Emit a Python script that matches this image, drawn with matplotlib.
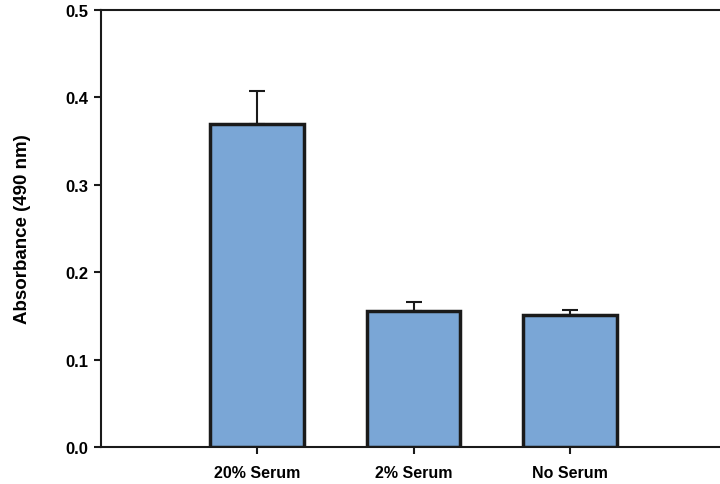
import matplotlib
matplotlib.use("Agg")
import matplotlib.pyplot as plt

# data
groups = ["20% Serum", "2% Serum", "No Serum"]
absorbance = [0.370, 0.156, 0.151]
err_up = [0.037, 0.010, 0.006]
yticks = [0.0, 0.1, 0.2, 0.3, 0.4, 0.5]

tickfont = ["Liberation Sans", "DejaVu Sans"]

fig = plt.figure(figsize=(7.2, 4.85), dpi=100)
ax = fig.add_axes([101 / 720, 1 - 448 / 485, 625 / 720, 437 / 485])

pos = [1, 2, 3]
ax.bar(pos, absorbance, width=0.6, color="#7aa6d6", edgecolor="#1a1a1a",
       linewidth=2.5, zorder=3)
ax.errorbar(pos, absorbance, yerr=[[0, 0, 0], err_up], fmt="none",
            ecolor="#1a1a1a", elinewidth=1.5, capsize=5.5, capthick=1.5, zorder=2)

ax.set_xlim(0, 4)
ax.set_ylim(0, 0.5)
ax.set_yticks(yticks)
ax.set_yticklabels([f"{v:.1f}" for v in yticks], family=tickfont,
                   fontweight="bold", fontsize=12)
ax.set_xticks(pos)
ax.set_xticklabels(groups, family=tickfont, fontweight="bold", fontsize=11.5)
ax.tick_params(axis="both", direction="out", length=5, width=1.5, color="#1a1a1a")
ax.tick_params(axis="y", pad=4)
ax.tick_params(axis="x", pad=8)

for s in ["left", "bottom", "top"]:
    ax.spines[s].set_linewidth(1.5)
    ax.spines[s].set_color("#1a1a1a")
ax.spines["right"].set_visible(False)

ax.set_ylabel("Absorbance (490 nm)", family=tickfont,
              fontweight="bold", fontsize=13.5, labelpad=25)

fig.savefig("out.png", dpi=100)
